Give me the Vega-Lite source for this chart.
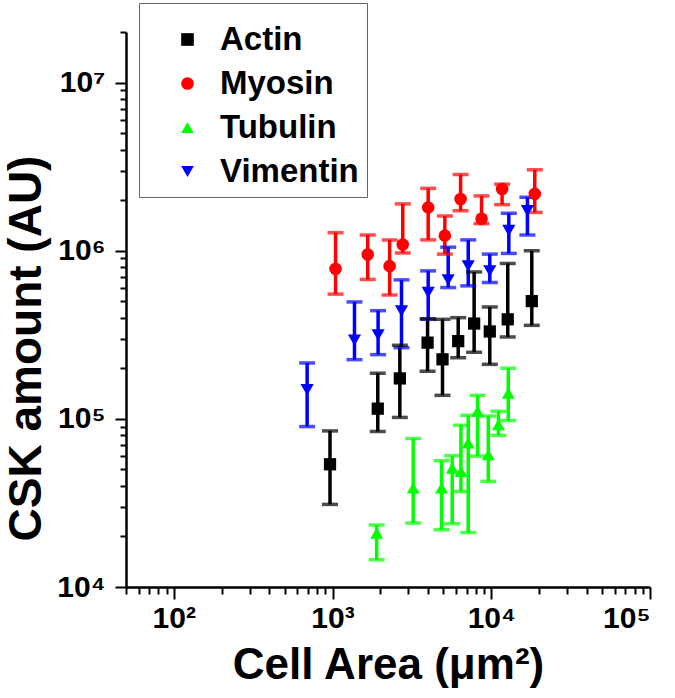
{
  "$schema": "https://vega.github.io/schema/vega-lite/v6.json",
  "width": 524,
  "height": 555,
  "autosize": {"type": "none"},
  "padding": {"left": 126, "top": 32, "right": 25, "bottom": 111},
  "background": "white",
  "config": {
    "view": {"stroke": null},
    "font": "Liberation Sans",
    "axis": {
      "domainColor": "black", "domainWidth": 2.5, "tickColor": "black", "tickWidth": 2,
      "labelFont": "Liberation Sans", "labelFontWeight": "bold", "labelFontSize": 30, "labelColor": "black",
      "titleFont": "Liberation Sans", "titleFontWeight": "bold", "titleColor": "black", "grid": false
    }
  },
  "data": {"values": [
    {"protein": "Actin", "area": 964, "value": 53700, "lo": 31000, "hi": 84800},
    {"protein": "Actin", "area": 1928, "value": 115000, "lo": 84000, "hi": 187000},
    {"protein": "Actin", "area": 2655, "value": 174000, "lo": 102000, "hi": 274000},
    {"protein": "Actin", "area": 3970, "value": 284000, "lo": 192000, "hi": 394000},
    {"protein": "Actin", "area": 4930, "value": 226000, "lo": 138000, "hi": 391000},
    {"protein": "Actin", "area": 6190, "value": 290000, "lo": 231000, "hi": 400000},
    {"protein": "Actin", "area": 7800, "value": 369000, "lo": 249000, "hi": 748000},
    {"protein": "Actin", "area": 9790, "value": 331000, "lo": 211000, "hi": 463000},
    {"protein": "Actin", "area": 12700, "value": 391000, "lo": 307000, "hi": 840000},
    {"protein": "Actin", "area": 18000, "value": 502000, "lo": 360000, "hi": 1000000},
    {"protein": "Myosin", "area": 1045, "value": 780000, "lo": 552000, "hi": 1280000},
    {"protein": "Myosin", "area": 1667, "value": 950000, "lo": 675000, "hi": 1240000},
    {"protein": "Myosin", "area": 2290, "value": 810000, "lo": 545000, "hi": 1160000},
    {"protein": "Myosin", "area": 2770, "value": 1090000, "lo": 970000, "hi": 1900000},
    {"protein": "Myosin", "area": 4006, "value": 1810000, "lo": 1160000, "hi": 2350000},
    {"protein": "Myosin", "area": 5100, "value": 1230000, "lo": 955000, "hi": 1610000},
    {"protein": "Myosin", "area": 6410, "value": 2030000, "lo": 1730000, "hi": 2840000},
    {"protein": "Myosin", "area": 8690, "value": 1550000, "lo": 1450000, "hi": 2120000},
    {"protein": "Myosin", "area": 11700, "value": 2330000, "lo": 1880000, "hi": 2490000},
    {"protein": "Myosin", "area": 18800, "value": 2180000, "lo": 1690000, "hi": 3030000},
    {"protein": "Tubulin", "area": 1897, "value": 20900, "lo": 14500, "hi": 23400},
    {"protein": "Tubulin", "area": 3222, "value": 38800, "lo": 24000, "hi": 76400},
    {"protein": "Tubulin", "area": 4864, "value": 38800, "lo": 21900, "hi": 56400},
    {"protein": "Tubulin", "area": 5675, "value": 51000, "lo": 23800, "hi": 60400},
    {"protein": "Tubulin", "area": 6440, "value": 48700, "lo": 37000, "hi": 91600},
    {"protein": "Tubulin", "area": 7160, "value": 72000, "lo": 21100, "hi": 105000},
    {"protein": "Tubulin", "area": 8200, "value": 111000, "lo": 60000, "hi": 138000},
    {"protein": "Tubulin", "area": 9580, "value": 61200, "lo": 42500, "hi": 104000},
    {"protein": "Tubulin", "area": 11100, "value": 92500, "lo": 79800, "hi": 111000},
    {"protein": "Tubulin", "area": 12800, "value": 142000, "lo": 97800, "hi": 200000},
    {"protein": "Vimentin", "area": 692, "value": 149000, "lo": 90000, "hi": 215000},
    {"protein": "Vimentin", "area": 1375, "value": 294000, "lo": 225000, "hi": 496000},
    {"protein": "Vimentin", "area": 1937, "value": 315000, "lo": 241000, "hi": 440000},
    {"protein": "Vimentin", "area": 2720, "value": 438000, "lo": 265000, "hi": 671000},
    {"protein": "Vimentin", "area": 4006, "value": 564000, "lo": 391000, "hi": 759000},
    {"protein": "Vimentin", "area": 5355, "value": 671000, "lo": 604000, "hi": 1050000},
    {"protein": "Vimentin", "area": 7160, "value": 813000, "lo": 618000, "hi": 1160000},
    {"protein": "Vimentin", "area": 9790, "value": 759000, "lo": 647000, "hi": 955000},
    {"protein": "Vimentin", "area": 12900, "value": 1320000, "lo": 964000, "hi": 1670000},
    {"protein": "Vimentin", "area": 16900, "value": 1730000, "lo": 1240000, "hi": 2080000}
  ]},
  "layer": [
    {
      "mark": {"type": "rule", "strokeWidth": 3.5},
      "encoding": {
        "x": {"field": "area", "type": "quantitative",
          "scale": {"type": "log", "domain": [50, 100000], "nice": false},
          "axis": {"orient": "bottom",
            "values": [50,60,70,80,90,100,200,300,400,500,600,700,800,900,1000,2000,3000,4000,5000,6000,7000,8000,9000,10000,20000,30000,40000,50000,60000,70000,80000,90000,100000],
            "tickSize": {"condition": {"test": "abs(log(datum.value)/LN10 - round(log(datum.value)/LN10)) < 0.001", "value": 12}, "value": 7},
            "labelPadding": 4,
            "labelExpr": "abs(log(datum.value)/LN10 - round(log(datum.value)/LN10)) < 0.001 ? '10' + ['⁰','¹','²','³','⁴','⁵','⁶','⁷'][round(log(datum.value)/LN10)] : ''",
            "title": "Cell Area (μm²)", "titleFontSize": 44, "titlePadding": 10}},
        "y": {"field": "lo", "type": "quantitative",
          "scale": {"type": "log", "domain": [10000, 20000000], "nice": false},
          "axis": {"orient": "left",
            "values": [10000,20000,30000,40000,50000,60000,70000,80000,90000,100000,200000,300000,400000,500000,600000,700000,800000,900000,1000000,2000000,3000000,4000000,5000000,6000000,7000000,8000000,9000000,10000000,20000000],
            "tickSize": {"condition": {"test": "abs(log(datum.value)/LN10 - round(log(datum.value)/LN10)) < 0.001", "value": 11}, "value": 6},
            "labelPadding": 10,
            "labelExpr": "abs(log(datum.value)/LN10 - round(log(datum.value)/LN10)) < 0.001 ? '10' + ['⁰','¹','²','³','⁴','⁵','⁶','⁷'][round(log(datum.value)/LN10)] : ''",
            "title": "CSK amount (AU)", "titleFontSize": 46, "titleX": -100, "titleY": 316, "titleBaseline": "middle", "titleAlign": "center", "titleAngle": -90}},
        "y2": {"field": "hi"},
        "stroke": {"field": "protein", "type": "nominal", "legend": null,
          "scale": {"domain": ["Actin", "Myosin", "Tubulin", "Vimentin"], "range": ["#000000", "#ff0000", "#00ff00", "#0000ff"]}}
      }
    },
    {
      "mark": {"type": "tick", "orient": "horizontal", "size": 16, "thickness": 3.5},
      "encoding": {
        "x": {"field": "area", "type": "quantitative"},
        "y": {"field": "lo", "type": "quantitative"},
        "fill": {"field": "protein", "type": "nominal", "legend": null,
          "scale": {"domain": ["Actin", "Myosin", "Tubulin", "Vimentin"], "range": ["#000000", "#ff0000", "#00ff00", "#0000ff"]}}
      }
    },
    {
      "mark": {"type": "tick", "orient": "horizontal", "size": 16, "thickness": 3.5},
      "encoding": {
        "x": {"field": "area", "type": "quantitative"},
        "y": {"field": "hi", "type": "quantitative"},
        "fill": {"field": "protein", "type": "nominal", "legend": null}
      }
    },
    {
      "mark": {"type": "point", "filled": true, "opacity": 1},
      "encoding": {
        "x": {"field": "area", "type": "quantitative"},
        "y": {"field": "value", "type": "quantitative"},
        "size": {"field": "protein", "type": "nominal", "legend": null,
          "scale": {"domain": ["Actin", "Myosin", "Tubulin", "Vimentin"], "range": [150, 175, 230, 230]}},
        "color": {"field": "protein", "type": "nominal",
          "scale": {"range": ["#000000", "#ff0000", "#00ff00", "#0000ff"]},
          "legend": {"title": " ", "titleFontSize": 10, "titlePadding": 2, "orient": "none", "legendX": 13, "legendY": -29,
            "strokeColor": "#666666", "fillColor": "white", "padding": 8,
            "symbolOffset": 24, "labelOffset": 16, "symbolSize": 160, "rowPadding": 10,
            "labelFont": "Liberation Sans", "labelFontWeight": "bold", "labelFontSize": 33, "labelColor": "black", "labelLimit": 400}},
        "shape": {"field": "protein", "type": "nominal",
          "scale": {"range": ["square", "circle", "triangle-up", "triangle-down"]},
          "legend": {"title": " ", "titleFontSize": 10, "titlePadding": 2, "orient": "none", "legendX": 13, "legendY": -29,
            "strokeColor": "#666666", "fillColor": "white", "padding": 8,
            "symbolOffset": 24, "labelOffset": 16, "symbolSize": 160, "rowPadding": 10,
            "labelFont": "Liberation Sans", "labelFontWeight": "bold", "labelFontSize": 33, "labelColor": "black", "labelLimit": 400}}
      }
    }
  ]
}
